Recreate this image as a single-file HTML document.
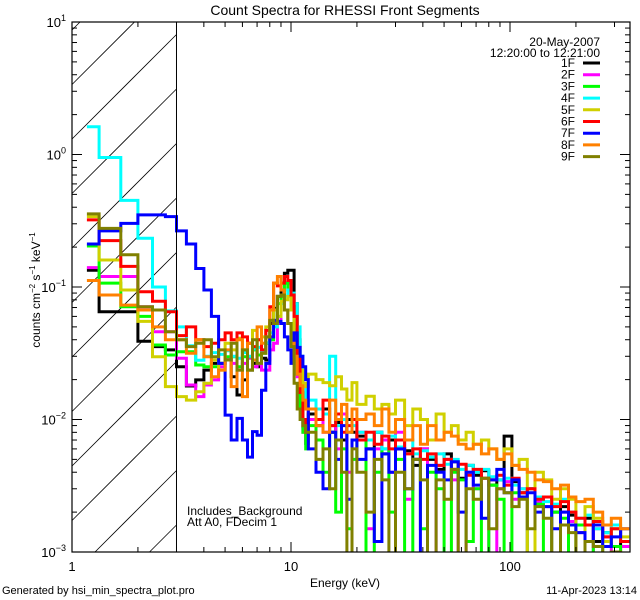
<!DOCTYPE html>
<html><head><meta charset="utf-8"><style>
html,body{margin:0;padding:0;background:#fff;width:640px;height:600px;overflow:hidden;}
svg{display:block;font-family:"Liberation Sans",sans-serif;}
</style></head><body>
<svg id="chart" width="640" height="600" viewBox="0 0 640 600" xmlns="http://www.w3.org/2000/svg">
<rect x="0" y="0" width="640" height="600" fill="#fff"/>
<defs><clipPath id="plotclip"><rect x="72" y="22" width="558" height="530"/></clipPath></defs>
<text x="345" y="15" text-anchor="middle" font-size="14">Count Spectra for RHESSI Front Segments</text>
<g id="hatch"></g>
<g id="series" clip-path="url(#plotclip)"></g>
<g id="axes"></g>
<text x="187" y="515" font-size="12">Includes_Background</text>
<text x="187" y="526" font-size="12">Att A0, FDecim 1</text>
<text x="600" y="46" text-anchor="end" font-size="12">20-May-2007</text>
<text x="600" y="57" text-anchor="end" font-size="12">12:20:00 to 12:21:00</text>
<g id="legend"></g>
<text x="345" y="587" text-anchor="middle" font-size="12">Energy (keV)</text>
<text transform="translate(40,290) rotate(-90)" text-anchor="middle" font-size="12">counts cm<tspan font-size="8" dy="-5">−2</tspan><tspan dy="5"> s</tspan><tspan font-size="8" dy="-5">−1</tspan><tspan dy="5"> keV</tspan><tspan font-size="8" dy="-5">−1</tspan></text>
<text x="2" y="594" font-size="11">Generated by hsi_min_spectra_plot.pro</text>
<text x="637" y="594" text-anchor="end" font-size="11">11-Apr-2023 13:14</text>
</svg>
<script>
// energy bin edges (keV)
const lowEdges = [1.17,1.33,1.67,2.0,2.33,2.67,3.0,3.33,3.67,4.0,4.33,4.67,5.0,5.33,5.67,6.0,6.33,6.67,7.0,7.33,7.67,8.0,8.33,8.67,9.0,9.33,9.67,10.0,10.33,10.67,11.0,11.33,11.67];
const hiEdges = [12,13,14,15,16,17,18,19,20,22,24,26,28,30,33,36,39,42,46,50,54,58,63,68,74,80,87,94,102,110,120,130,142,155,170,185,200,220,240,265,290,320,350];
const seriesNames = ["1F","2F","3F","4F","5F","6F","7F","8F","9F"];
const seriesColors = ["#000000","#ff00ff","#00ff00","#00ffff","#d0d000","#ff0000","#0000ff","#ff8000","#808000"];
// low-energy counts (counts cm^-2 s^-1 keV^-1)
const low1F = [.134,.065,.065,.039,.0355,.0335,.025,.0179,.0199,.0236,.0265,.0265,.029,.021,.0153,.0199,.0236,.0265,.025,.029,.0281,.053,.069,.085,.107,.127,.134,.134,.075,.040,.0157,.0088,.0066];
const low2F = [.14,.12,.12,.071,.046,.046,.029,.0182,.0149,.0182,.0199,.025,.029,.0265,.0236,.0265,.029,.025,.0265,.0236,.0236,.0335,.0376,.053,.085,.107,.107,.085,.0335,.021,.012,.008,.0066];
const low3F = [.204,.107,.071,.06,.0365,.0307,.0325,.0325,.0258,.025,.025,.0265,.0298,.0298,.025,.0298,.0298,.0335,.0307,.0316,.0376,.040,.053,.075,.085,.107,.095,.067,.040,.022,.012,.008,.006];
const low4F = [1.62,.95,.45,.233,.10,.066,.050,.036,.028,.030,.032,.031,.033,.030,.029,.032,.030,.034,.035,.033,.038,.045,.050,.060,.075,.085,.095,.090,.075,.050,.030,.018,.012];
const low5F = [.340,.160,.095,.055,.0298,.0177,.0149,.014,.0162,.0188,.0281,.0236,.0376,.0335,.041,.0335,.0376,.047,.040,.042,.050,.056,.067,.060,.078,.080,.085,.067,.042,.0265,.0236,.0188,.0177];
const low6F = [.321,.224,.143,.092,.078,.065,.043,.050,.040,.0355,.0376,.040,.045,.040,.045,.042,.0376,.0355,.040,.0335,.047,.071,.107,.102,.107,.120,.112,.087,.06,.030,.016,.010,.008];
const low7F = [.211,.265,.302,.35,.35,.34,.265,.211,.138,.095,.060,.0265,.0108,.007,.0102,.007,.0052,.0081,.0076,.0166,.0265,.042,.056,.055,.053,.042,.0335,.0265,.045,.035,.030,.025,.020];
const low8F = [.112,.087,.073,.067,.050,.040,.040,.0316,.040,.0298,.021,.0236,.0335,.0177,.040,.0149,.0376,.0281,.050,.0376,.042,.067,.107,.120,.095,.067,.053,.0376,.030,.022,.018,.014,.012];
const low9F = [.356,.277,.175,.071,.067,.046,.040,.0355,.0376,.040,.0298,.0335,.0281,.0376,.0236,.0335,.0236,.040,.0265,.0316,.042,.056,.053,.085,.087,.067,.053,.0355,.0188,.012,.010,.009,.008];
// high-energy counts in units of 1e-3 counts cm^-2 s^-1 keV^-1
const hi1F = [11,9,12,8,9.5,7,10,8,7.5,6,8,5.5,7,6,5.8,4.5,6,5,4.2,5.5,4.8,3.6,4.5,3.8,4.1,3.2,3.5,7.5,3.4,2.8,3.0,2.3,2.6,2.0,2.2,1.9,1.6,1.8,1.2,1.4,1.1,1.2];
const hi2F = [10,12,8,9,6,11,4,7,8,1.5,6,7,4,8,2.5,5,6,0.6,4.5,5,3.5,0.7,4,3,3.6,0.5,3,3.4,2.5,3,0.8,2.4,2.2,0.6,2,1.7,1.4,0.7,1.5,1.3,0.8,1.1];
const hi3F = [9,7,4,8,2,6,1.5,5,7,0.7,4,6,2,5,0.6,5,1.5,4,3,0.5,4,3.5,1.2,3,0.6,3.2,2.5,0.5,2.8,2.6,0.7,2.3,0.6,2,1.8,0.6,1.6,1.2,0.5,1.2,1.1,0.6];
const hi4F = [14,12,11,30,9,10,8,9,8,7,8,6,7.5,6.2,7,5.5,5.8,5.2,5.5,4.6,5,4.2,4.5,4,4.2,3.7,3.5,3.6,3.2,3,3,2.6,2.4,2.3,2.5,2,1.8,1.9,1.5,1.4,1.6,1.2];
const hi5F = [22,20,19,18,21,17,14,19,13,15,12,13,11,14,9,12,10,7,11,8,9,7,8,6.5,7,6,5,6,4.5,5,0.7,4,3.5,2.5,3,2.5,0.6,2.2,1.8,1.2,1.5,1.3];
const hi6F = [12,10,14,9,11,8,9,10,7,8,6.5,7.5,6,7,5.5,6,5,5.5,4.5,5,4.2,4.6,3.8,4.2,3.6,3.5,3.8,3.2,3.6,2.8,3,2.5,2.6,2.2,2.4,2,1.8,1.6,1.7,1.3,1.5,1.2];
const hi7F = [6,4,3,8,5,9,2.5,7,5,6,1.2,5.5,4,6,3,5,0.8,4.5,4,3.5,4.8,2,4,3.2,1.8,3.5,4.2,2.8,3.5,2.6,2.8,2,2.2,1.5,2,1.6,1.4,1.2,1.6,1.1,1.3,1.5];
const hi8F = [12,9,8,14,10,13,8,12,10,11,9,12,8,10,7,9,6.5,9,7,8,7.5,6.5,6,6.5,5.5,6,5,5.5,4.5,4.2,4,3.5,3.4,3,3.2,2.6,2.4,2.5,2,1.6,1.8,1.5];
const hi9F = [8,5,6,3,7,4,0.7,6,4,2,5,3.5,0.5,4,3,5,3.5,0.6,3.5,2.5,4.2,0.8,3,2.5,3.6,1.5,3,2.8,2.2,2.5,1.5,2.2,1.8,0.5,1.6,1.4,0.9,1.2,1.1,0.7,1,0.8];
const xTickLabels = ["1","10","100"];
const yTickExps = ["1","0","−1","−2","−3"];

const NS="http://www.w3.org/2000/svg";
const X0=72,X1=630,Y0=22,Y1=552,DEC_X=219,DEC_Y=132.5;
function xs(e){return X0+DEC_X*Math.log10(e);}
function ys(v){return Y0+DEC_Y*(1-Math.log10(v));}
function mk(tag,attrs,parent){const el=document.createElementNS(NS,tag);for(const k in attrs)el.setAttribute(k,attrs[k]);parent.appendChild(el);return el;}

const edges = lowEdges.concat(hiEdges);
const lows=[low1F,low2F,low3F,low4F,low5F,low6F,low7F,low8F,low9F];
const his=[hi1F,hi2F,hi3F,hi4F,hi5F,hi6F,hi7F,hi8F,hi9F];

// hatch: lines y = c - (x - X0), clipped manually to hatch box
const hatch=document.getElementById('hatch');
const HX1=xs(3);
for(let c=30-54.5*3;c<=Y1+(HX1-X0)+60;c+=54.5){
  // x range where Y0<=y<=Y1 : y=c-(x-X0)
  let xa=Math.max(X0, X0+c-Y1), xb=Math.min(HX1, X0+c-Y0);
  if(xb<=xa) continue;
  const ln=mk('line',{x1:xa.toFixed(1),y1:(c-(xa-X0)).toFixed(1),x2:xb.toFixed(1),y2:(c-(xb-X0)).toFixed(1),stroke:'#000','stroke-width':0.8},hatch);
  
  
}
const sep=mk('line',{x1:HX1,y1:Y0,x2:HX1,y2:Y1,stroke:'#000','stroke-width':1},document.getElementById('chart'));



// series
const sg=document.getElementById('series');
for(let s=0;s<9;s++){
  const vals=lows[s].concat(his[s].map(v=>v*1e-3));
  let d='';
  for(let i=0;i<vals.length;i++){
    const y=ys(Math.max(vals[i],8e-4));
    d+=(i===0?'M':'L')+xs(edges[i]).toFixed(1)+' '+y.toFixed(1)+'L'+Math.min(xs(edges[i+1]),X1+2).toFixed(1)+' '+y.toFixed(1);
  }
  const p=mk('path',{d:d,fill:'none',stroke:seriesColors[s],'stroke-width':3,'stroke-linejoin':'miter'},sg);
  
  
}

// axes
const ax=document.getElementById('axes');
const frame=mk('rect',{x:X0,y:Y0,width:X1-X0,height:Y1-Y0,fill:'none',stroke:'#000','stroke-width':1.2},ax);


for(let k=0;k<=2;k++){
  for(let m=1;m<=9;m++){
    const e=m*Math.pow(10,k); const x=xs(e); if(x>X1)break;
    const len=m===1?10:5;
    const t1=mk('line',{x1:x,y1:Y1,x2:x,y2:Y1-len,stroke:'#000','stroke-width':1},ax);
    
    
    const t2=mk('line',{x1:x,y1:Y0,x2:x,y2:Y0+len,stroke:'#000','stroke-width':1},ax);
    
    
  }
  const lb=mk('text',{x:xs(Math.pow(10,k)),y:571,'text-anchor':'middle','font-size':13},ax);
  lb.textContent=xTickLabels[k];
  
  
}
for(let k=-3;k<=1;k++){
  for(let m=1;m<=9;m++){
    const v=m*Math.pow(10,k); const y=ys(v); if(y<Y0-0.5)break;
    const len=m===1?10:5;
    const t1=mk('line',{x1:X0,y1:y,x2:X0+len,y2:y,stroke:'#000','stroke-width':1},ax);
    
    
    const t2=mk('line',{x1:X1,y1:y,x2:X1-len,y2:y,stroke:'#000','stroke-width':1},ax);
    
    
  }
  const yy=ys(Math.pow(10,k));
  const lb=mk('text',{x:66,y:yy+5,'text-anchor':'end','font-size':13},ax);
  
  
  const b=mk('tspan',{},lb); b.textContent='10';
  const sup=mk('tspan',{'font-size':9,dy:-6},lb); sup.textContent=yTickExps[1-k];
}

// legend
const lg=document.getElementById('legend');
for(let s=0;s<9;s++){
  const y=63+s*11.7;
  const t=mk('text',{x:575,y:y+4,'text-anchor':'end','font-size':12},lg);
  t.textContent=seriesNames[s];
  
  
  const l=mk('line',{x1:583,y1:y,x2:600,y2:y,stroke:seriesColors[s],'stroke-width':3},lg);
  
  
}
</script>
</body></html>
